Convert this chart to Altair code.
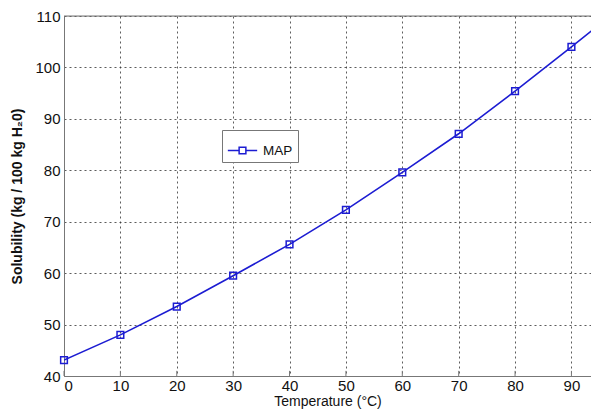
import altair as alt
import pandas as pd

temps = [0, 10, 20, 30, 40, 50, 60, 70, 80, 90]
solubility = [43.1, 48.0, 53.5, 59.5, 65.6, 72.3, 79.6, 87.1, 95.4, 104.0]
# line continues past last marker to the right edge
line_temps = temps + [95]
line_solubility = solubility + [108.4]
series_name = "MAP"
x_ticks = [0, 10, 20, 30, 40, 50, 60, 70, 80, 90]
y_ticks = [40, 50, 60, 70, 80, 90, 100, 110]

BLUE = "#1c1cd2"
FONT = "Liberation Sans"

line_df = pd.DataFrame({"T": line_temps, "S": line_solubility, "series": series_name})
pt_df = pd.DataFrame({"T": temps, "S": solubility})
tick_df = pd.DataFrame({"T": x_ticks, "y0": [40] * len(x_ticks), "y1": [41] * len(x_ticks)})

xscale = alt.Scale(domain=[0, 93.47], nice=False, zero=False)
yscale = alt.Scale(domain=[40, 110], nice=False, zero=False)

xaxis = alt.Axis(values=x_ticks, title="Temperature (°C)", grid=True,
                 gridColor="#333", gridDash=[2, 3], gridWidth=1, gridOpacity=0.8,
                 domainColor="#777", ticks=False,
                 labelFont=FONT, labelFontSize=15, labelColor="#111", labelPadding=2,
                 titleFont=FONT, titleFontSize=14, titleFontWeight="normal",
                 titleColor="#111", titlePadding=1)
yaxis = alt.Axis(values=y_ticks, title="Solubility (kg / 100 kg H₂0)", grid=True,
                 gridColor="#333", gridDash=[2, 3], gridWidth=1, gridOpacity=0.8,
                 domainColor="#777", ticks=False,
                 labelFont=FONT, labelFontSize=15, labelColor="#111", labelPadding=4,
                 titleFont=FONT, titleFontSize=14, titleFontWeight="bold",
                 titleColor="#111", titlePadding=10)

line = alt.Chart(line_df).mark_line(clip=True, strokeWidth=1.6).encode(
    x=alt.X("T:Q", scale=xscale, axis=xaxis),
    y=alt.Y("S:Q", scale=yscale, axis=yaxis),
    color=alt.Color("series:N",
                    scale=alt.Scale(domain=[series_name], range=[BLUE]),
                    legend=alt.Legend(
                        title=None, orient="none", legendX=158, legendY=114,
                        symbolType="M-1,0H-0.23M0.23,0H1M-0.23,-0.23H0.23V0.23H-0.23Z",
                        symbolSize=860, symbolStrokeWidth=1.5, symbolFillColor="transparent",
                        symbolStrokeColor=BLUE,
                        labelFont=FONT, labelFontSize=13.5, labelColor="#111",
                        labelOffset=5, padding=5,
                        strokeColor="#777", fillColor="white")),
)

points = alt.Chart(pt_df).mark_point(shape="square", filled=False, size=45,
                                     strokeWidth=1.5, color=BLUE, opacity=1).encode(
    x=alt.X("T:Q", scale=xscale),
    y=alt.Y("S:Q", scale=yscale),
)

ticks = alt.Chart(tick_df).mark_rule(color="#777", strokeWidth=1).encode(
    x=alt.X("T:Q", scale=xscale),
    y=alt.Y("y0:Q", scale=yscale),
    y2="y1:Q",
)

top_border = alt.Chart(pd.DataFrame({"v": [110]})).mark_rule(color="#777", strokeWidth=1).encode(
    y=alt.Y("v:Q", scale=yscale)
)

chart = alt.layer(top_border, ticks, line, points).properties(
    width=527, height=360,
    autosize=alt.AutoSizeParams(type="none"),
    padding={"left": 56, "top": 8, "right": 0, "bottom": 33},
).configure_view(stroke=None).configure(background="white")

chart.save("out.html", embed_options={"renderer": "svg", "actions": False})
